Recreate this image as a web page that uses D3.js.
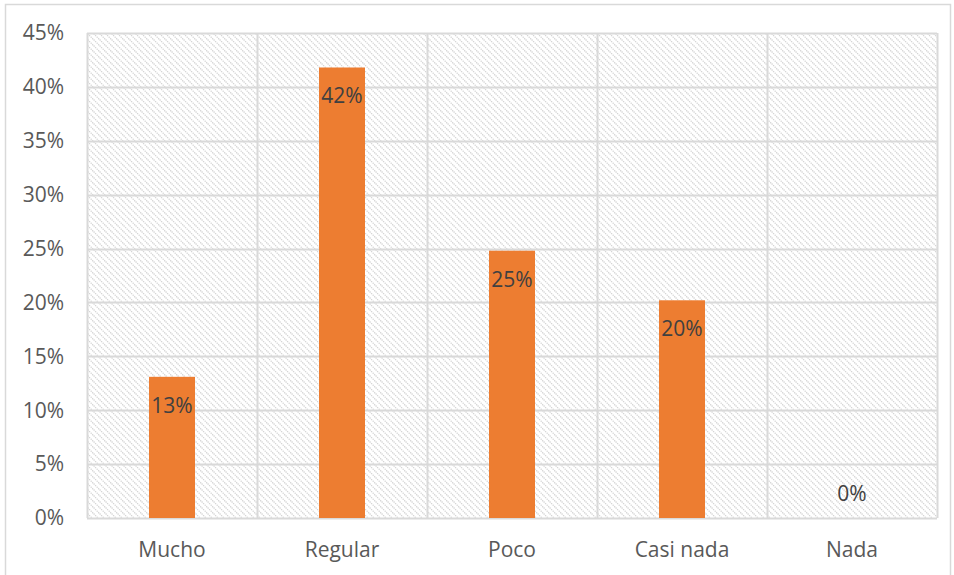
<!DOCTYPE html>
<html>
<head>
<meta charset="utf-8">
<script src="https://cdn.jsdelivr.net/npm/d3@7"></script>
<style>
  body { margin: 0; background: #fff; }
  text { font-family: "Open Sans", sans-serif; }
</style>
</head>
<body>
<script>
// chart data
var categories = ["Mucho", "Regular", "Poco", "Casi nada", "Nada"];
var values = [0.131, 0.418, 0.248, 0.202, 0];
var yTicks = [0, 0.05, 0.10, 0.15, 0.20, 0.25, 0.30, 0.35, 0.40, 0.45];

// canvas
var margin = {top: 33, right: 17, bottom: 57, left: 87},
    width = 954 - margin.left - margin.right,
    height = 575 - margin.top - margin.bottom;

var svg = d3.select("body").append("svg")
    .attr("width", 954)
    .attr("height", 575);

// hatch pattern for plot background
var defs = svg.append("defs");
var pat = defs.append("pattern")
    .attr("id", "hatch")
    .attr("patternUnits", "userSpaceOnUse")
    .attr("width", 6)
    .attr("height", 6);
pat.append("path")
    .attr("d", "M-1,-1 L7,7 M-4,2 L2,8 M4,-2 L10,4")
    .attr("stroke", "#d4d4d4")
    .attr("stroke-width", 1.3)
    .attr("stroke-dasharray", "1.4,0.8");

// outer chart border
svg.append("rect")
    .attr("x", 5.5).attr("y", 4.5)
    .attr("width", 945).attr("height", 580)
    .attr("fill", "none")
    .attr("stroke", "#d9d9d9")
    .attr("stroke-width", 1.5);

var g = svg.append("g")
    .attr("transform", "translate(" + margin.left + "," + margin.top + ")");

var x = d3.scaleBand().domain(categories).range([0, width]).paddingInner(0).paddingOuter(0);
var y = d3.scaleLinear().domain([0, 0.45]).range([height, 0]);

g.append("rect")
    .attr("width", width)
    .attr("height", height)
    .attr("fill", "url(#hatch)");

// horizontal grid
g.selectAll(".hgrid")
    .data(yTicks)
    .enter().append("line")
    .attr("class", "hgrid")
    .attr("x1", 0).attr("x2", width)
    .attr("y1", function(d) { return Math.round(y(d)) + 0.5; })
    .attr("y2", function(d) { return Math.round(y(d)) + 0.5; })
    .attr("stroke", "#d9d9d9")
    .attr("stroke-width", 2);

// vertical grid at band edges
var edges = categories.map(function(c) { return x(c); }).concat([width]);
g.selectAll(".vgrid")
    .data(edges)
    .enter().append("line")
    .attr("class", "vgrid")
    .attr("x1", function(d) { return Math.round(d) + 0.5; })
    .attr("x2", function(d) { return Math.round(d) + 0.5; })
    .attr("y1", 0).attr("y2", height)
    .attr("stroke", "#d9d9d9")
    .attr("stroke-width", 2);

// bars
var barW = 46;
g.selectAll(".bar")
    .data(values)
    .enter().append("rect")
    .attr("class", "bar")
    .attr("x", function(d, i) { return x(categories[i]) + x.bandwidth() / 2 - barW / 2; })
    .attr("y", function(d) { return y(d); })
    .attr("width", barW)
    .attr("height", function(d) { return height - y(d); })
    .attr("fill", "#ed7d31");

// bar labels (inside end)
g.selectAll(".lbl")
    .data(values)
    .enter().append("text")
    .attr("class", "lbl")
    .attr("x", function(d, i) { return x(categories[i]) + x.bandwidth() / 2; })
    .attr("y", function(d) { return d > 0 ? y(d) + 36 : y(d) - 17; })
    .attr("text-anchor", "middle")
    .attr("font-size", 21)
    .attr("fill", "#404040")
    .text(function(d) { return Math.round(d * 100) + "%"; });

// y axis labels
g.selectAll(".ytick")
    .data(yTicks)
    .enter().append("text")
    .attr("class", "ytick")
    .attr("x", -23)
    .attr("y", function(d) { return y(d); })
    .attr("dy", "0.35em")
    .attr("text-anchor", "end")
    .attr("font-size", 21)
    .attr("fill", "#595959")
    .text(function(d) { return Math.round(d * 100) + "%"; });

// x axis labels
g.selectAll(".xtick")
    .data(categories)
    .enter().append("text")
    .attr("class", "xtick")
    .attr("x", function(d) { return x(d) + x.bandwidth() / 2; })
    .attr("y", height + 39)
    .attr("text-anchor", "middle")
    .attr("font-size", 21)
    .attr("fill", "#595959")
    .text(function(d) { return d; });
</script>
</body>
</html>
